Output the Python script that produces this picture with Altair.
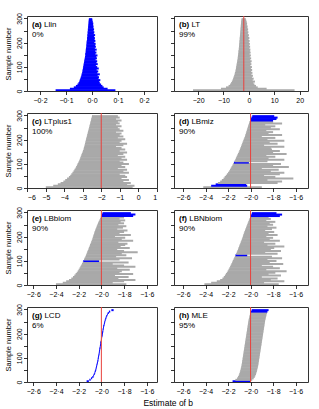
import altair as alt
import pandas as pd

FONT = "Liberation Sans"
GREY = "#a9a9a9"
BLUE = "#0000ff"
RED = "#e8413c"
TRUE_B = -2.0

sample_no = [3, 9, 15, 21, 27, 33, 39, 45, 51, 57, 63, 69, 75, 81, 87, 93, 99,
             105, 111, 117, 123, 129, 135, 141, 147, 153, 159, 165, 171, 177,
             183, 189, 195, 201, 207, 213, 219, 225, 231, 237, 243, 249, 255,
             261, 267, 273, 279, 285, 291, 297]

panel_tags = ["(a)", "(b)", "(c)", "(d)", "(e)", "(f)", "(g)", "(h)"]
panel_names = ["Llin", "LT", "LTplus1", "LBmiz", "LBbiom", "LBNbiom", "LCD", "MLE"]
coverage = ["0%", "99%", "100%", "90%", "90%", "90%", "6%", "95%"]

ticks_a = [-0.2, -0.1, 0.0, 0.1, 0.2]
ticks_b = [-20, -10, 0, 10, 20]
ticks_c = [-6, -5, -4, -3, -2, -1, 0, 1]
ticks_d = [-2.6, -2.4, -2.2, -2.0, -1.8, -1.6]
y_ticks = [0, 50, 100, 150, 200, 250, 300]

lo_a = [-0.14, -0.085, -0.07, -0.062, -0.056, -0.052, -0.049, -0.047, -0.045, -0.043,
        -0.041, -0.040, -0.038, -0.037, -0.036, -0.035, -0.034, -0.033, -0.032, -0.031,
        -0.030, -0.029, -0.028, -0.027, -0.026, -0.026, -0.025, -0.024, -0.024, -0.023,
        -0.022, -0.022, -0.021, -0.021, -0.020, -0.019, -0.019, -0.018, -0.018, -0.017,
        -0.017, -0.016, -0.016, -0.015, -0.015, -0.014, -0.014, -0.013, -0.013, -0.012]
hi_a = [0.09, 0.06, 0.045, 0.04, 0.035, 0.03, 0.028, 0.032, 0.025, 0.027,
        0.022, 0.03, 0.02, 0.024, 0.018, 0.026, 0.02, 0.015, 0.022, 0.017,
        0.02, 0.014, 0.019, 0.016, 0.021, 0.013, 0.017, 0.012, 0.018, 0.011,
        0.015, 0.012, 0.014, 0.009, 0.013, 0.01, 0.011, 0.008, 0.012, 0.007,
        0.009, 0.006, 0.008, 0.005, 0.006, 0.004, 0.005, 0.003, 0.002, 0.001]

lo_b = [-22, -11, -9, -8.0, -7.4, -7.0, -6.7, -6.4, -6.2, -6.0,
        -5.8, -5.6, -5.5, -5.3, -5.2, -5.1, -5.0, -4.9, -4.8, -4.7,
        -4.6, -4.5, -4.4, -4.35, -4.3, -4.2, -4.15, -4.1, -4.0, -3.95,
        -3.9, -3.85, -3.8, -3.75, -3.7, -3.65, -3.6, -3.55, -3.5, -3.45,
        -3.4, -3.35, -3.3, -3.25, -3.2, -3.15, -3.1, -3.05, -3.0, -2.9]
hi_b = [18, 7, 3.5, 2.8, 2.2, 1.8, 2.4, 1.5, 1.9, 1.2,
        1.6, 1.0, 1.4, 0.9, 1.3, 0.8, 1.2, 0.6, 1.0, 0.7,
        1.1, 0.5, 0.9, 0.4, 0.8, 0.3, 0.7, 0.4, 0.6, 0.2,
        0.5, 0.1, 0.4, 0.0, 0.3, -0.1, 0.2, -0.2, 0.0, -0.4,
        -0.2, -0.5, -0.3, -0.6, -0.5, -0.8, -0.7, -0.9, -1.0, -1.2]

lo_c = [-5.0, -4.6, -4.35, -4.2, -4.05, -3.95, -3.85, -3.75, -3.68, -3.62,
        -3.56, -3.5, -3.45, -3.4, -3.36, -3.32, -3.28, -3.24, -3.2, -3.17,
        -3.14, -3.11, -3.08, -3.05, -3.02, -2.99, -2.96, -2.94, -2.92, -2.9,
        -2.88, -2.86, -2.84, -2.82, -2.8, -2.78, -2.76, -2.74, -2.72, -2.7,
        -2.68, -2.66, -2.64, -2.62, -2.6, -2.58, -2.56, -2.54, -2.52, -2.5]
hi_c = [-0.3, -0.2, -0.6, -0.4, -0.8, -0.5, -0.9, -0.6, -0.7, -1.0,
        -0.5, -0.8, -0.6, -1.1, -0.7, -0.9, -0.5, -0.8, -1.0, -0.6,
        -0.9, -0.7, -1.1, -0.8, -0.6, -1.0, -0.7, -0.9, -1.2, -0.8,
        -0.6, -1.0, -0.9, -0.7, -1.1, -0.8, -1.0, -0.9, -1.2, -0.8,
        -1.0, -1.1, -0.9, -1.2, -1.0, -1.1, -0.9, -1.2, -1.0, -1.1]

lo_d = [-2.42, -2.35, -2.31, -2.29, -2.27, -2.255, -2.24, -2.23, -2.22, -2.21,
        -2.2, -2.19, -2.183, -2.176, -2.169, -2.162, -2.155, -2.148, -2.142, -2.136,
        -2.13, -2.124, -2.118, -2.112, -2.106, -2.1, -2.095, -2.09, -2.085, -2.08,
        -2.075, -2.07, -2.065, -2.06, -2.055, -2.05, -2.046, -2.042, -2.038, -2.034,
        -2.03, -2.026, -2.022, -2.018, -2.014, -2.01, -1.999, -1.997, -1.993, -1.985]
hi_d = [-1.9, -2.03, -2.04, -1.76, -1.72, -1.85, -1.62, -1.78, -1.88, -1.74,
        -1.7, -1.82, -1.75, -1.9, -1.66, -1.8, -1.73, -2.015, -1.85, -1.7,
        -1.84, -1.78, -1.86, -1.68, -1.8, -1.74, -1.81, -1.82, -1.7, -1.88,
        -1.76, -1.83, -1.7, -1.85, -1.78, -1.9, -1.72, -1.84, -1.8, -1.86,
        -1.74, -1.82, -1.78, -1.87, -1.72, -1.8, -1.8, -1.77, -1.76, -1.79]

lo_e = [-2.40, -2.34, -2.31, -2.285, -2.265, -2.25, -2.238, -2.227, -2.217, -2.208,
        -2.2, -2.192, -2.185, -2.178, -2.171, -2.165, -2.159, -2.153, -2.147, -2.141,
        -2.135, -2.13, -2.125, -2.12, -2.115, -2.11, -2.105, -2.1, -2.095, -2.09,
        -2.085, -2.08, -2.076, -2.072, -2.068, -2.064, -2.06, -2.055, -2.05, -2.045,
        -2.04, -2.035, -2.03, -2.024, -2.018, -2.012, -2.006, -1.998, -1.995, -1.99]
hi_e = [-1.78, -1.9, -1.8, -1.7, -1.85, -1.76, -1.88, -1.72, -1.84, -1.82,
        -1.75, -1.86, -1.7, -1.8, -1.9, -1.76, -2.02, -1.84, -1.73, -1.87,
        -1.78, -1.82, -1.68, -1.8, -1.86, -1.75, -1.83, -1.79, -1.77, -1.85,
        -1.72, -1.82, -1.79, -1.88, -1.74, -1.84, -1.8, -1.77, -1.86, -1.81,
        -1.78, -1.85, -1.8, -1.83, -1.79, -1.84, -1.8, -1.72, -1.70, -1.74]

lo_f = [-2.41, -2.35, -2.3, -2.27, -2.25, -2.238, -2.228, -2.219, -2.211, -2.203,
        -2.196, -2.189, -2.182, -2.176, -2.17, -2.164, -2.158, -2.152, -2.146, -2.14,
        -2.134, -2.128, -2.122, -2.117, -2.112, -2.107, -2.102, -2.097, -2.092, -2.087,
        -2.082, -2.077, -2.072, -2.068, -2.064, -2.06, -2.055, -2.05, -2.045, -2.04,
        -2.035, -2.03, -2.025, -2.02, -2.015, -2.01, -2.004, -1.998, -1.994, -1.988]
hi_f = [-1.75, -1.88, -1.7, -1.82, -1.76, -1.9, -1.73, -1.84, -1.78, -1.68,
        -1.86, -1.74, -1.8, -1.9, -1.71, -1.83, -1.77, -1.85, -1.72, -1.81,
        -2.03, -1.76, -1.87, -1.73, -1.82, -1.79, -1.7, -1.85, -1.78, -1.88,
        -1.74, -1.83, -1.8, -1.86, -1.76, -1.84, -1.79, -1.87, -1.81, -1.77,
        -1.85, -1.8, -1.83, -1.78, -1.86, -1.82, -1.84, -1.74, -1.72, -1.77]

lo_g = [-2.13, -2.106, -2.091, -2.08, -2.072, -2.066, -2.061, -2.057, -2.053, -2.05,
        -2.047, -2.044, -2.041, -2.038, -2.035, -2.033, -2.031, -2.029, -2.026, -2.024,
        -2.022, -2.02, -2.018, -2.016, -2.014, -2.012, -2.01, -2.009, -2.007, -2.004,
        -2.001, -1.998, -1.996, -1.994, -1.992, -1.99, -1.988, -1.985, -1.983, -1.98,
        -1.977, -1.974, -1.97, -1.966, -1.962, -1.957, -1.951, -1.944, -1.934, -1.912]
hi_g = [-2.11, -2.094, -2.081, -2.07, -2.064, -2.058, -2.053, -2.049, -2.045, -2.042,
        -2.039, -2.036, -2.033, -2.03, -2.027, -2.025, -2.023, -2.021, -2.018, -2.016,
        -2.014, -2.012, -2.01, -2.008, -2.006, -2.004, -2.002, -2.002, -1.999, -1.996,
        -1.993, -1.99, -1.988, -1.986, -1.984, -1.982, -1.98, -1.977, -1.975, -1.972,
        -1.969, -1.966, -1.962, -1.958, -1.954, -1.949, -1.943, -1.934, -1.922, -1.892]

lo_h = [-2.16, -2.135, -2.12, -2.112, -2.105, -2.1, -2.096, -2.092, -2.089, -2.086,
        -2.083, -2.08, -2.078, -2.076, -2.074, -2.072, -2.07, -2.068, -2.066, -2.064,
        -2.062, -2.06, -2.058, -2.056, -2.054, -2.052, -2.05, -2.048, -2.046, -2.044,
        -2.042, -2.04, -2.038, -2.036, -2.034, -2.032, -2.03, -2.028, -2.026, -2.024,
        -2.022, -2.02, -2.018, -2.015, -2.012, -2.009, -2.006, -2.003, -1.999, -1.99]
hi_h = [-2.005, -1.985, -1.972, -1.963, -1.957, -1.952, -1.948, -1.944, -1.941, -1.938,
        -1.935, -1.932, -1.93, -1.928, -1.926, -1.924, -1.922, -1.92, -1.918, -1.916,
        -1.914, -1.912, -1.91, -1.908, -1.906, -1.904, -1.902, -1.9, -1.898, -1.896,
        -1.894, -1.892, -1.89, -1.888, -1.886, -1.884, -1.882, -1.88, -1.878, -1.876,
        -1.874, -1.872, -1.87, -1.867, -1.864, -1.861, -1.858, -1.854, -1.85, -1.84]

LEFT_W = 130
RIGHT_W = 134
PANEL_H = 75

specs = [
    (lo_a, hi_a, [-0.25, 0.25], ticks_a, ".1f", True, 17.0),
    (lo_b, hi_b, [-29.5, 23.3], ticks_b, "d", False, 17.4),
    (lo_c, hi_c, [-6.02, 1.02], ticks_c, "d", True, 17.0),
    (lo_d, hi_d, [-2.68, -1.49], ticks_d, ".1f", False, 17.4),
    (lo_e, hi_e, [-2.655, -1.51], ticks_d, ".1f", True, 17.0),
    (lo_f, hi_f, [-2.68, -1.49], ticks_d, ".1f", False, 15.2),
    (lo_g, hi_g, [-2.655, -1.51], ticks_d, ".1f", True, 17.4),
    (lo_h, hi_h, [-2.68, -1.49], ticks_d, ".1f", False, 17.4),
]


def make_panel(k):
    lo, hi, dom, ticks, fmt, left, name_x = specs[k]
    df = pd.DataFrame({"sample": sample_no, "lower": lo, "upper": hi})
    x_scale = alt.Scale(domain=dom, nice=False, zero=False)
    x_axis = alt.Axis(values=ticks, format=fmt, title=None, labelOverlap=False,
                      labelExpr="replace(datum.label, '.', '·')")
    y_axis = alt.Axis(values=y_ticks, labels=left,
                      title="Sample number" if left else None,
                      labelExpr="datum.value % 100 === 0 ? datum.label : ''")
    lines = alt.Chart(df).transform_calculate(
        col=f"datum.lower <= {TRUE_B} && datum.upper >= {TRUE_B} ? '{GREY}' : '{BLUE}'"
    ).mark_rule(strokeWidth=2, clip=True).encode(
        x=alt.X("lower:Q", scale=x_scale, axis=x_axis),
        x2="upper:Q",
        y=alt.Y("sample:Q", scale=alt.Scale(domain=[0, 310], nice=False, zero=False), axis=y_axis),
        color=alt.Color("col:N", scale=None),
    )
    red = alt.Chart(pd.DataFrame({"b": [TRUE_B]})).mark_rule(
        color=RED, strokeWidth=1, clip=True
    ).encode(x=alt.X("b:Q", scale=x_scale, axis=x_axis))
    tag = alt.Chart(pd.DataFrame({"t": [panel_tags[k]]})).mark_text(
        align="left", baseline="alphabetic", font=FONT, fontSize=8,
        fontWeight="bold", color="black"
    ).encode(x=alt.value(5), y=alt.value(11), text="t:N")
    name = alt.Chart(pd.DataFrame({"t": [panel_names[k]]})).mark_text(
        align="left", baseline="alphabetic", font=FONT, fontSize=8, color="black"
    ).encode(x=alt.value(name_x), y=alt.value(11), text="t:N")
    cov = alt.Chart(pd.DataFrame({"t": [coverage[k]]})).mark_text(
        align="left", baseline="alphabetic", font=FONT, fontSize=8, color="black"
    ).encode(x=alt.value(5), y=alt.value(21), text="t:N")
    return alt.layer(lines, red, tag, name, cov).properties(
        width=LEFT_W if left else RIGHT_W, height=PANEL_H
    )


panels = [make_panel(k) for k in range(8)]

chart = alt.concat(
    *panels, columns=2, spacing={"row": 22, "column": 17}, bounds="flush", align="each"
).properties(
    title=alt.TitleParams("Estimate of b", orient="bottom", anchor="middle",
                          font=FONT, fontSize=8.5, fontWeight="normal",
                          color="black", offset=4, dx=12),
    padding={"left": 4, "top": 12, "right": 10, "bottom": 3},
    background="white",
).configure_view(
    stroke="#333333", strokeWidth=1
).configure_axis(
    labelFont=FONT, labelFontSize=7, labelColor="black",
    tickColor="black", tickSize=3.5, tickWidth=0.8, domain=False, grid=False,
    labelOverlap=False, labelPadding=2,
    titleFont=FONT, titleFontSize=7.5, titleFontWeight="normal", titleColor="black"
).configure_axisY(
    labelAngle=270, labelAlign="center", labelBaseline="bottom", labelPadding=1,
    titlePadding=3
)

chart.save("out.html", embed_options={"renderer": "svg", "actions": False})
